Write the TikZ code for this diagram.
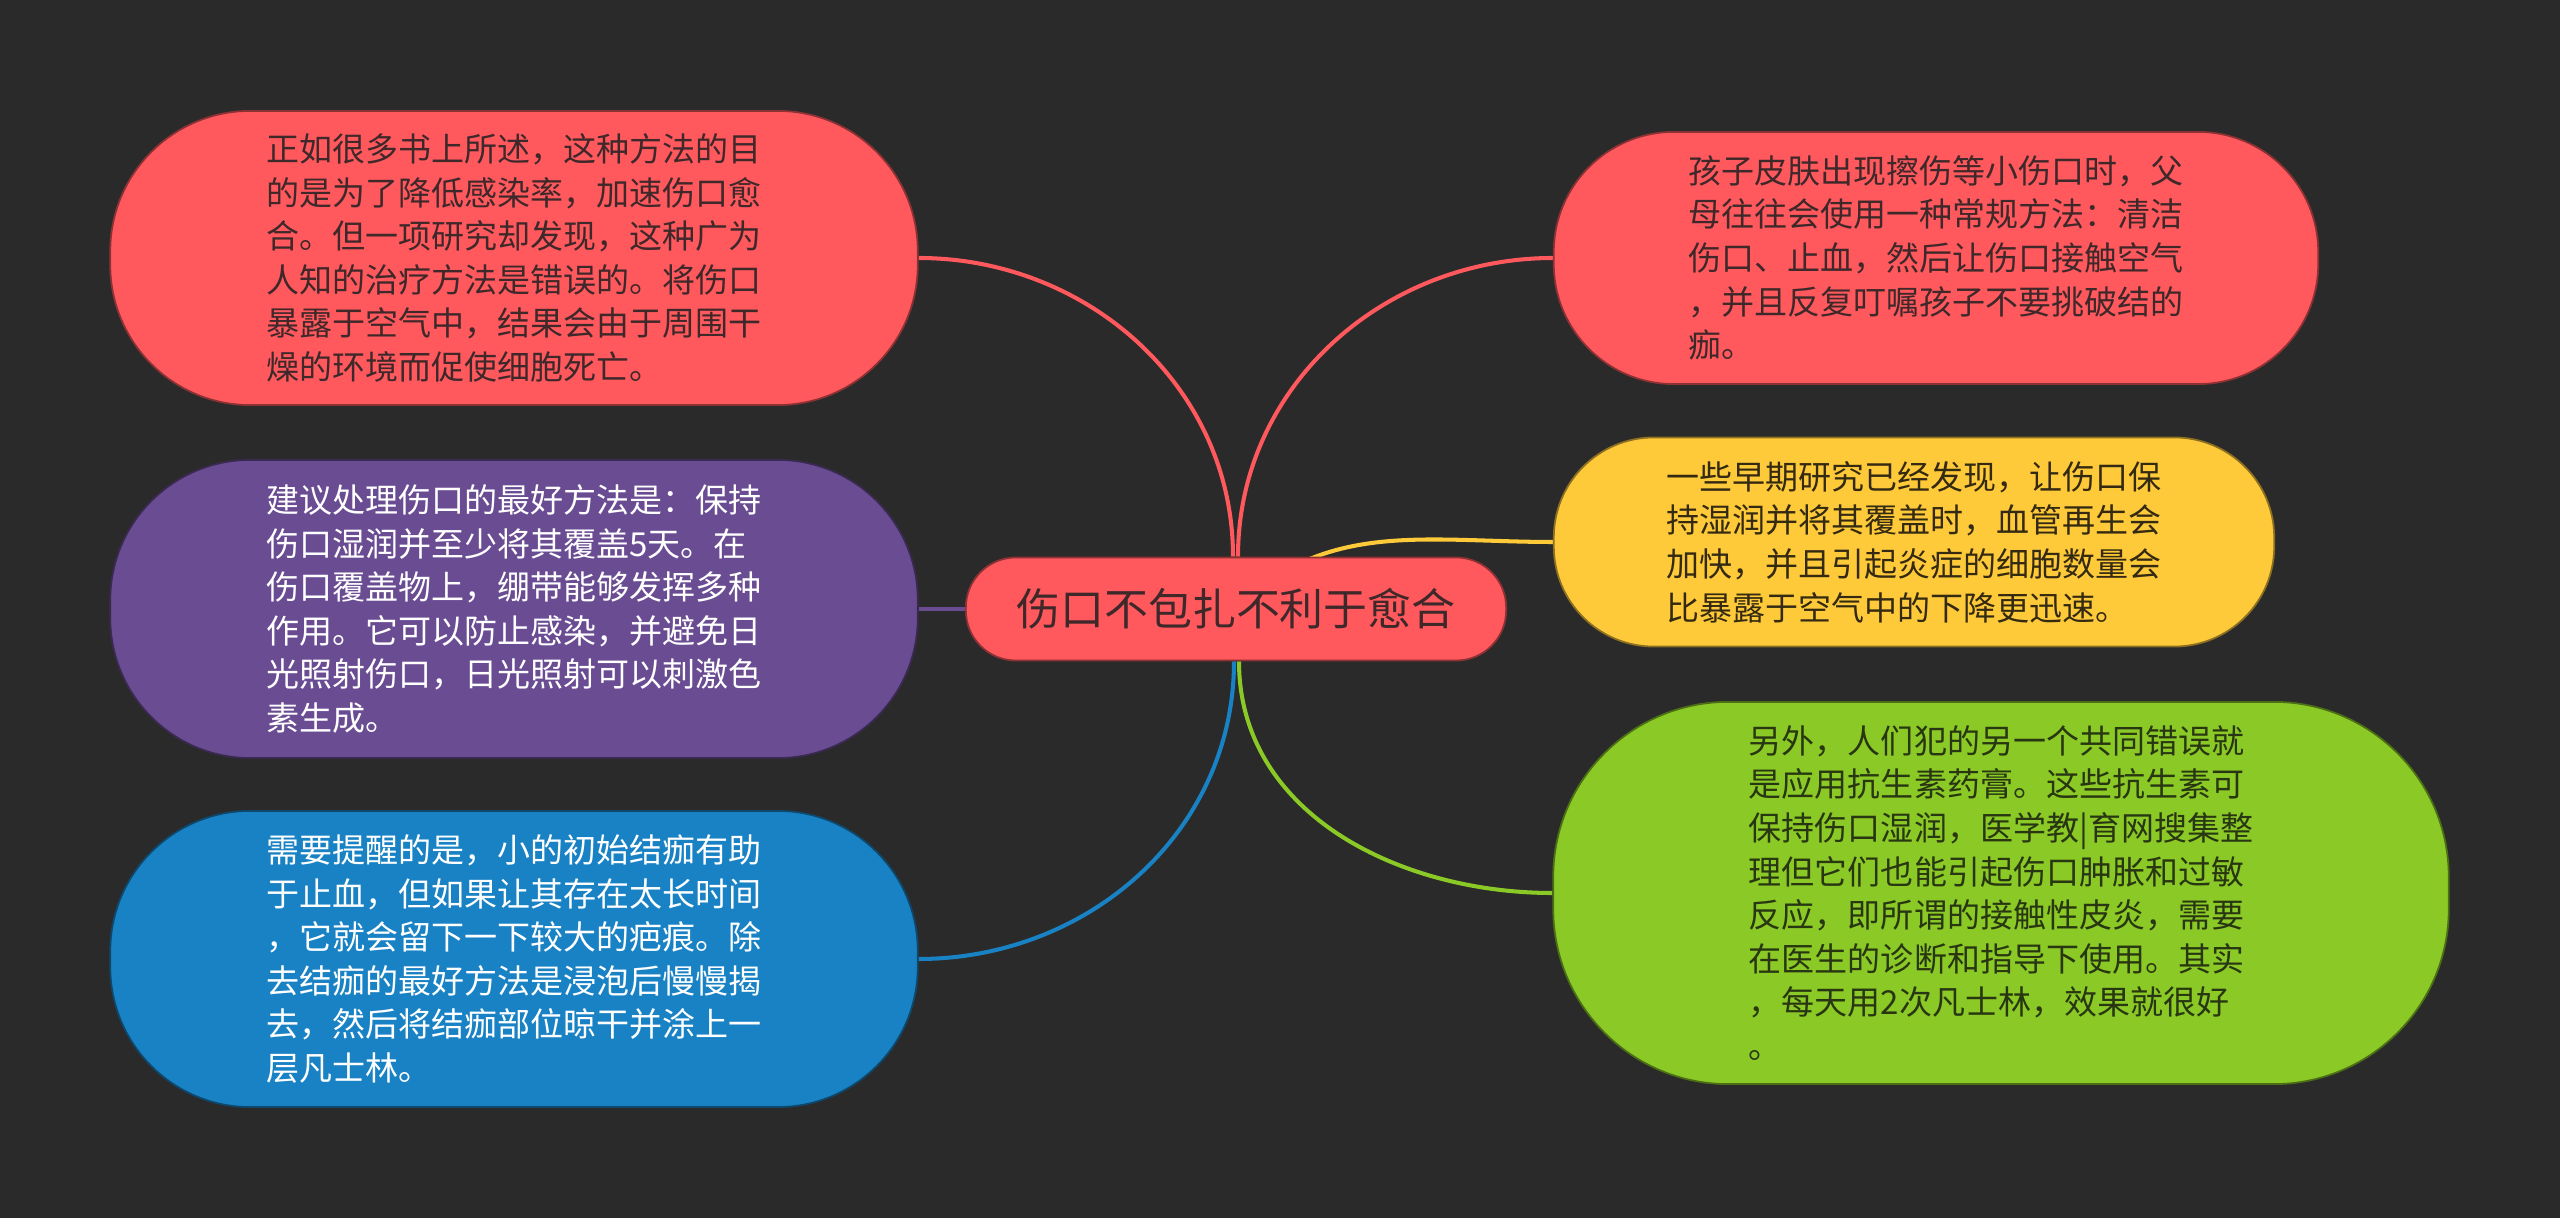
\documentclass[tikz,border=0pt]{standalone}
\usepackage{fontspec}
\setmainfont{Noto Sans CJK SC}
\usepackage{xcolor}
\usepackage{tikz}
\usetikzlibrary{backgrounds}
\definecolor{bgdark}{RGB}{42,42,42}
\definecolor{topicred}{HTML}{FF595E}
\definecolor{topicyellow}{HTML}{FFCA3A}
\definecolor{topicgreen}{HTML}{8AC926}
\definecolor{topicblue}{HTML}{1982C4}
\definecolor{topicpurple}{HTML}{6A4C93}
\definecolor{inkred}{RGB}{62,40,42}
\definecolor{inkyellow}{RGB}{52,42,18}
\definecolor{inkgreen}{RGB}{40,54,18}

\tikzset{
  topic/.style={fill=#1, draw=#1!55!black, line width=0.5pt, inner sep=0pt, align=left,
    font=\fontsize{9.39pt}{12.4pt}\selectfont},
  branch/.style={draw=#1, line width=1.15pt},
}

\begin{document}
\begin{tikzpicture}[x=0.01cm, y=0.01cm]
  \useasboundingbox (0,0) rectangle (2560,1218);
  % central topic
  \node[topic=topicred, text=inkred, minimum width=5.4cm, minimum height=1.03cm,
    rounded corners=0.5cm, font=\fontsize{12.5pt}{15pt}\selectfont] (hub) at (1236,609)
    {伤口不包扎不利于愈合};
  % left side
  \node[topic=topicred, text=inkred, minimum width=8.07cm, minimum height=2.94cm,
    rounded corners=1.4cm] (care) at (514,960)
    {正如很多书上所述，这种方法的目\\的是为了降低感染率，加速伤口愈\\合。但一项研究却发现，这种广为\\人知的治疗方法是错误的。将伤口\\暴露于空气中，结果会由于周围干\\燥的环境而促使细胞死亡。};
  \node[topic=topicpurple, text=white, minimum width=8.07cm, minimum height=2.98cm,
    rounded corners=1.4cm] (cover) at (514,609)
    {建议处理伤口的最好方法是：保持\\伤口湿润并至少将其覆盖5天。在\\伤口覆盖物上，绷带能够发挥多种\\作用。它可以防止感染，并避免日\\光照射伤口，日光照射可以刺激色\\素生成。};
  \node[topic=topicblue, text=white, minimum width=8.07cm, minimum height=2.96cm,
    rounded corners=1.4cm] (scab) at (514,259)
    {需要提醒的是，小的初始结痂有助\\于止血，但如果让其存在太长时间\\，它就会留下一下较大的疤痕。除\\去结痂的最好方法是浸泡后慢慢揭\\去，然后将结痂部位晾干并涂上一\\层凡士林。};
  % right side
  \node[topic=topicred, text=inkred, minimum width=7.64cm, minimum height=2.52cm,
    rounded corners=1.2cm] (habit) at (1936,960)
    {孩子皮肤出现擦伤等小伤口时，父\\母往往会使用一种常规方法：清洁\\伤口、止血，然后让伤口接触空气\\，并且反复叮嘱孩子不要挑破结的\\痂。};
  \node[topic=topicyellow, text=inkyellow, minimum width=7.2cm, minimum height=2.09cm,
    rounded corners=1cm] (moist) at (1914,676)
    {一些早期研究已经发现，让伤口保\\持湿润并将其覆盖时，血管再生会\\加快，并且引起炎症的细胞数量会\\比暴露于空气中的下降更迅速。};
  \node[topic=topicgreen, text=inkgreen, minimum width=8.95cm, minimum height=3.82cm,
    rounded corners=1.75cm] (salve) at (2001,325)
    {另外，人们犯的另一个共同错误就\\是应用抗生素药膏。这些抗生素可\\保持伤口湿润，医学教|育网搜集整\\理但它们也能引起伤口肿胀和过敏\\反应，即所谓的接触性皮炎，需要\\在医生的诊断和指导下使用。其实\\，每天用2次凡士林，效果就很好\\。};
  \begin{scope}[on background layer]
    \fill[bgdark] (0,0) rectangle (2560,1218);
    \draw[branch=topicred] ([xshift=-0.03cm]hub.north) to[out=90, in=0] (care.east);
    \draw[branch=topicred] ([xshift=0.02cm]hub.north) to[out=90, in=180] (habit.west);
    \draw[branch=topicyellow] (hub.center) to[out=45, in=180] (moist.west);
    \draw[branch=topicpurple] (hub.west) -- (cover.east);
    \draw[branch=topicblue] ([xshift=-0.02cm]hub.south) to[out=-90, in=0] (scab.east);
    \draw[branch=topicgreen] ([xshift=0.03cm]hub.south) to[out=-90, in=180] (salve.west);
  \end{scope}
\end{tikzpicture}
\end{document}
